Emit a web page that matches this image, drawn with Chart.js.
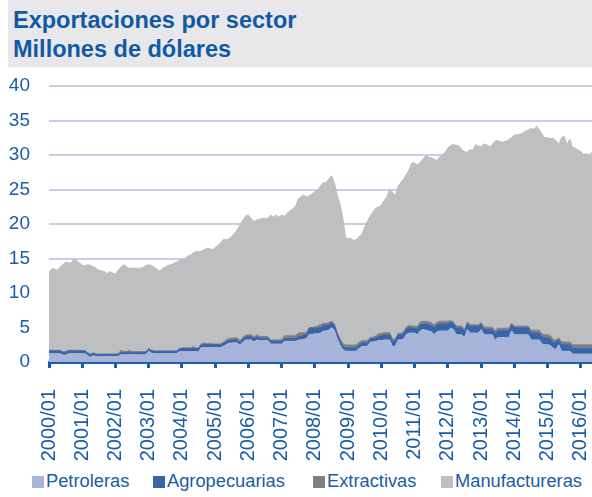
<!DOCTYPE html>
<html>
<head>
<meta charset="utf-8">
<script src="https://cdn.jsdelivr.net/npm/chart.js@4.4.1/dist/chart.umd.min.js"></script>
<style>
html, body { margin: 0; padding: 0; background: #fff; }
#wrap { position: relative; width: 592px; height: 497px; overflow: hidden; }
#head { position: absolute; left: 8px; top: 0; width: 584px; height: 67px; background: #e8e8ea; }
#head div { position: absolute; left: 5px; font: bold 23.5px "Liberation Sans", Arial, sans-serif; color: #0f5aa6; white-space: nowrap; line-height: normal; }
#c { position: absolute; left: 0; top: 0; }
#legend { position: absolute; left: 0; top: 471px; width: 592px; height: 20px; font: 18.3px "Liberation Sans", Arial, sans-serif; color: #1a5ca8; line-height: 20px; }
#legend span { position: absolute; top: 0; white-space: nowrap; }
#legend i { position: absolute; top: 5px; width: 12px; height: 12px; }
</style>
</head>
<body>
<div id="wrap">
  <div id="head">
    <div style="top:7px">Exportaciones por sector</div>
    <div style="top:36px">Millones de dólares</div>
  </div>
  <canvas id="c" width="592" height="465"></canvas>
  <div id="legend"></div>
</div>
<script>
// serie mensual 2000/01 - 2016/05, millones de dólares
const startYear = 2000;

const petroleras = [
  1.2, 1.2, 1.2, 1.2, 1.2, 1.0, 1.0, 1.2, 1.2, 1.2, 1.2, 1.2,
  1.2, 1.2, 0.9, 0.7, 0.9, 0.8, 0.8, 0.8, 0.8, 0.8, 0.8, 0.8,
  0.8, 0.8, 1.05, 1.05, 1.05, 1.05, 1.05, 1.05, 1.05, 1.05, 1.05, 1.05,
  1.55, 1.3, 1.2, 1.2, 1.2, 1.2, 1.2, 1.2, 1.2, 1.2, 1.2, 1.5,
  1.5, 1.5, 1.5, 1.5, 1.5, 1.5, 1.5, 2.1, 2.1, 2.1, 2.1, 2.1,
  2.1, 2.1, 2.1, 2.3, 2.5, 2.75, 2.75, 2.8, 2.75, 2.4, 2.9, 3.2,
  3.2, 3.2, 2.9, 3.2, 3.1, 3.1, 3.1, 3.1, 2.6, 2.6, 2.6, 2.6,
  2.6, 3.0, 3.0, 3.0, 3.0, 3.0, 3.2, 3.2, 3.3, 3.4, 4.0, 4.0,
  4.1, 4.1, 4.2, 4.5, 4.5, 4.6, 5.0, 4.6, 3.4, 2.5, 1.8, 1.6,
  1.55, 1.55, 1.55, 1.6, 2.0, 2.25, 2.25, 2.3, 2.9, 2.9, 3.0, 3.1,
  3.1, 3.2, 3.2, 3.2, 2.2, 2.3, 3.2, 3.2, 3.3, 4.0, 4.2, 4.2,
  4.2, 3.95, 4.5, 4.7, 4.6, 4.5, 4.4, 3.95, 4.4, 4.5, 4.5, 4.5,
  4.5, 4.9, 4.7, 3.95, 3.95, 3.95, 3.55, 4.7, 4.2, 4.2, 4.2, 4.2,
  4.7, 3.95, 3.95, 3.95, 3.95, 3.1, 3.55, 3.55, 3.55, 3.55, 3.55, 4.5,
  3.95, 3.95, 3.95, 3.95, 3.95, 3.95, 3.2, 3.2, 3.2, 3.2, 2.6, 2.5,
  2.5, 2.4, 2.0, 1.8, 2.5, 1.55, 1.55, 1.55, 1.55, 1.15, 1.15, 1.15,
  1.15, 1.15, 1.15, 1.15, 1.15
];

const agropecuarias = [
  0.4, 0.4, 0.4, 0.4, 0.4, 0.4, 0.4, 0.4, 0.4, 0.4, 0.4, 0.4,
  0.4, 0.4, 0.35, 0.35, 0.35, 0.3, 0.3, 0.3, 0.3, 0.3, 0.3, 0.3,
  0.3, 0.3, 0.35, 0.35, 0.35, 0.35, 0.35, 0.35, 0.35, 0.35, 0.35, 0.35,
  0.35, 0.35, 0.35, 0.35, 0.35, 0.35, 0.35, 0.35, 0.35, 0.35, 0.35, 0.35,
  0.45, 0.45, 0.45, 0.45, 0.45, 0.45, 0.45, 0.45, 0.45, 0.45, 0.45, 0.45,
  0.4, 0.4, 0.4, 0.4, 0.4, 0.4, 0.4, 0.4, 0.4, 0.45, 0.45, 0.45,
  0.5, 0.5, 0.45, 0.5, 0.35, 0.35, 0.35, 0.35, 0.4, 0.4, 0.4, 0.4,
  0.4, 0.4, 0.4, 0.4, 0.4, 0.4, 0.5, 0.5, 0.6, 0.6, 0.9, 0.9,
  0.8, 0.8, 0.8, 0.8, 0.8, 0.8, 0.8, 0.7, 0.7, 0.6, 0.5, 0.45,
  0.5, 0.5, 0.5, 0.5, 0.5, 0.5, 0.5, 0.5, 0.5, 0.5, 0.5, 0.6,
  0.75, 0.75, 0.75, 0.75, 0.8, 0.75, 0.75, 0.75, 0.8, 0.8, 0.8, 0.7,
  0.7, 0.8, 0.9, 0.8, 0.9, 0.9, 0.9, 1.0, 1.0, 1.0, 1.0, 1.0,
  1.0, 0.9, 0.9, 0.95, 0.95, 0.95, 0.75, 0.9, 0.95, 0.95, 0.95, 0.95,
  0.8, 0.8, 0.8, 0.8, 0.8, 0.95, 0.95, 0.95, 0.95, 0.95, 0.95, 0.9,
  1.0, 1.0, 1.0, 1.0, 1.0, 1.0, 1.0, 1.0, 1.0, 1.0, 1.0, 1.0,
  1.0, 1.0, 0.8, 1.1, 0.7, 0.95, 0.95, 0.95, 0.95, 0.85, 0.85, 0.85,
  0.85, 0.85, 0.85, 0.85, 0.85
];

const extractivas = [
  0.1, 0.1, 0.1, 0.1, 0.1, 0.1, 0.1, 0.1, 0.1, 0.1, 0.1, 0.1,
  0.05, 0.05, 0.1, 0.1, 0.1, 0.05, 0.05, 0.05, 0.05, 0.05, 0.05, 0.05,
  0.05, 0.1, 0.3, 0.1, 0.1, 0.25, 0.1, 0.1, 0.1, 0.1, 0.1, 0.1,
  0.05, 0.05, 0.05, 0.05, 0.05, 0.05, 0.05, 0.05, 0.05, 0.05, 0.05, 0.05,
  0.1, 0.1, 0.1, 0.1, 0.3, 0.1, 0.1, 0.1, 0.2, 0.1, 0.1, 0.1,
  0.1, 0.1, 0.15, 0.2, 0.3, 0.3, 0.3, 0.3, 0.3, 0.25, 0.25, 0.25,
  0.25, 0.25, 0.25, 0.25, 0.25, 0.25, 0.25, 0.25, 0.2, 0.2, 0.2, 0.2,
  0.3, 0.4, 0.4, 0.4, 0.4, 0.4, 0.5, 0.5, 0.4, 0.3, 0.1, 0.1,
  0.2, 0.3, 0.4, 0.3, 0.3, 0.3, 0.1, 0.2, 0.2, 0.3, 0.4, 0.4,
  0.4, 0.4, 0.4, 0.4, 0.4, 0.35, 0.35, 0.35, 0.2, 0.2, 0.3, 0.4,
  0.3, 0.3, 0.3, 0.3, 0.3, 0.3, 0.2, 0.2, 0.3, 0.3, 0.3, 0.3,
  0.3, 0.4, 0.4, 0.4, 0.4, 0.4, 0.4, 0.4, 0.3, 0.4, 0.4, 0.4,
  0.4, 0.2, 0.2, 0.3, 0.3, 0.3, 0.4, 0.15, 0.25, 0.25, 0.25, 0.25,
  0.2, 0.3, 0.3, 0.3, 0.3, 0.5, 0.4, 0.4, 0.4, 0.4, 0.4, 0.2,
  0.25, 0.25, 0.25, 0.25, 0.25, 0.25, 0.4, 0.4, 0.4, 0.4, 0.45, 0.45,
  0.45, 0.45, 0.4, 0.3, 0.3, 0.4, 0.4, 0.4, 0.4, 0.5, 0.5, 0.5,
  0.5, 0.5, 0.5, 0.5, 0.5
];

const manufactureras = [
  11.3, 11.8, 11.8, 11.6, 12.05, 12.6, 13.0, 12.7, 12.6, 13.3, 13.0, 12.7,
  12.35, 12.35, 12.75, 12.85, 12.45, 12.45, 12.15, 12.05, 11.95, 11.65, 11.95, 11.75,
  11.6, 12.1, 12.1, 12.6, 12.3, 11.95, 12.1, 12.1, 12.1, 12.1, 12.2, 12.5,
  12.15, 12.3, 12.15, 11.8, 11.6, 12.0, 12.15, 12.4, 12.5, 12.7, 12.9, 12.8,
  12.75, 12.95, 13.25, 13.45, 13.55, 13.95, 13.95, 13.45, 13.55, 13.85, 13.75, 13.65,
  14.0, 14.3, 14.65, 14.9, 14.5, 14.45, 14.75, 15.2, 15.75, 16.8, 17.0, 17.3,
  17.35, 16.85, 16.75, 16.65, 17.0, 17.1, 17.1, 17.1, 18.1, 17.8, 18.1, 17.8,
  18.0, 17.3, 17.8, 18.1, 18.4, 18.8, 19.4, 19.8, 19.9, 19.6, 19.1, 19.4,
  19.6, 19.8, 20.1, 20.4, 20.4, 20.8, 21.1, 20.5, 19.9, 19.6, 18.3, 15.65,
  15.4, 15.45, 15.15, 15.3, 15.3, 15.5, 16.5, 17.35, 17.6, 18.2, 18.5, 18.4,
  18.55, 19.15, 19.75, 20.75, 21.3, 20.75, 21.35, 21.85, 22.1, 22.1, 22.6, 23.7,
  23.6, 23.45, 23.1, 23.5, 24.0, 23.9, 23.9, 24.05, 23.5, 23.8, 24.1, 24.5,
  25.1, 25.4, 25.7, 26.2, 26.1, 25.6, 25.8, 24.65, 25.4, 25.3, 26.1, 25.9,
  25.5, 26.55, 26.45, 26.15, 26.45, 27.45, 27.2, 27.0, 27.0, 27.1, 27.3, 26.9,
  27.7, 27.75, 27.8, 28.0, 28.3, 28.4, 29.25, 29.1, 29.6, 29.1, 28.95, 28.55,
  28.55, 28.55, 29.2, 28.9, 28.0, 29.6, 29.8, 28.6, 29.4, 28.6, 28.5, 28.2,
  28.0, 27.6, 27.7, 27.4, 27.9
];

// etiquetas mensuales "aaaa/mm"
const labels = [];
for (let i = 0; i < petroleras.length; i++) {
  const y = startYear + Math.floor(i / 12);
  const m = (i % 12) + 1;
  labels.push(y + '/' + (m < 10 ? '0' + m : m));
}

const ink = '#1a5ca8';
const fam = '"Liberation Sans", Arial, sans-serif';

const chart = new Chart(document.getElementById('c'), {
  type: 'line',
  data: {
    labels: labels,
    datasets: [{
      label: 'Petroleras',
      data: petroleras,
      backgroundColor: '#a7b4da',
      borderColor: '#a7b4da',
      fill: 'origin'
    }, {
      label: 'Agropecuarias',
      data: agropecuarias,
      backgroundColor: '#3865aa',
      borderColor: '#3865aa',
      fill: '-1'
    }, {
      label: 'Extractivas',
      data: extractivas,
      backgroundColor: '#808084',
      borderColor: '#808084',
      fill: '-1'
    }, {
      label: 'Manufactureras',
      data: manufactureras,
      backgroundColor: '#bebfc1',
      borderColor: '#bebfc1',
      fill: '-1'
    }]
  },
  options: {
    responsive: false,
    animation: false,
    elements: {
      point: { radius: 0 },
      line: { borderWidth: 1, tension: 0 }
    },
    layout: { padding: { top: 86, left: 0, right: 0, bottom: 2 } },
    plugins: {
      legend: { display: false },
      tooltip: { enabled: false }
    },
    scales: {
      x: {
        afterFit: function(s) {
          // sin margen extra a la derecha, el área llega al borde
          s.paddingLeft = 0;
          s.paddingRight = 0;
          s.height = 101;
        },
        ticks: {
          autoSkip: false,
          minRotation: 90,
          maxRotation: 90,
          padding: 21,
          color: ink,
          font: { size: 20, family: fam },
          callback: function(v) {
            const l = this.getLabelForValue(v);
            return l.endsWith('/01') ? l : null; // solo enero
          }
        },
        grid: {
          display: true,
          drawOnChartArea: false,
          drawTicks: true,
          tickLength: 6,
          color: ink,
          lineWidth: 3
        },
        border: { display: true, color: ink, width: 3 }
      },
      y: {
        stacked: true,
        min: 0,
        max: 40,
        afterFit: function(s) { s.width = 49; },
        ticks: {
          stepSize: 5,
          padding: 19,
          color: ink,
          font: { size: 19, family: fam }
        },
        grid: { color: '#c8cde8', lineWidth: 2, drawTicks: false },
        border: { display: false }
      }
    }
  }
});

// leyenda con los colores de cada serie
const legendX = [32, 153, 313, 441];
const legend = document.getElementById('legend');
chart.data.datasets.forEach(function(ds, i) {
  const box = document.createElement('i');
  box.style.left = legendX[i] + 'px';
  box.style.background = ds.backgroundColor;
  const txt = document.createElement('span');
  txt.style.left = (legendX[i] + 14) + 'px';
  txt.textContent = ds.label;
  legend.appendChild(box);
  legend.appendChild(txt);
});
</script>
</body>
</html>
